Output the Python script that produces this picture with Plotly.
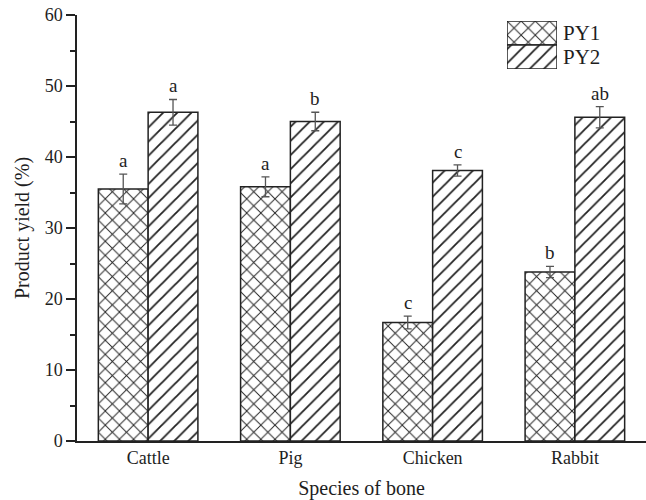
import plotly.graph_objects as go

# Bone species and product yields (%) for the two products
species = ["Cattle", "Pig", "Chicken", "Rabbit"]
py1_yield = [35.5, 35.8, 16.7, 23.8]
py1_err = [2.1, 1.4, 0.9, 0.8]
py2_yield = [46.3, 45.0, 38.1, 45.6]
py2_err = [1.8, 1.3, 0.8, 1.5]
py1_letters = ["a", "a", "c", "b"]
py2_letters = ["a", "b", "c", "ab"]
legend_labels = ["PY1", "PY2"]

FONT = "Liberation Serif, Times New Roman, serif"
INK = "#222222"
TEXT = "#1e1e1e"
BAR_W = 0.35

fig = go.Figure()


def bar_style(shape):
    return dict(
        color="white",
        line=dict(color=INK, width=1.5),
        pattern=dict(shape=shape, size=10, solidity=0.18,
                     fgcolor=INK, bgcolor="white", fillmode="replace"),
    )


fig.add_trace(go.Bar(
    x=species, y=py1_yield, width=BAR_W, offset=-BAR_W,
    marker=bar_style("x"), name=legend_labels[0], showlegend=False,
    error_y=dict(type="data", array=py1_err, visible=True,
                 color="#555555", thickness=1.3, width=4),
))
fig.add_trace(go.Bar(
    x=species, y=py2_yield, width=BAR_W, offset=0,
    marker=bar_style("/"), name=legend_labels[1], showlegend=False,
    error_y=dict(type="data", array=py2_err, visible=True,
                 color="#555555", thickness=1.3, width=4),
))

# Significance letters above the error bars
annotations = []
for i in range(len(species)):
    for vals, errs, letters, shift in ((py1_yield, py1_err, py1_letters, -BAR_W / 2),
                                       (py2_yield, py2_err, py2_letters, BAR_W / 2)):
        annotations.append(dict(
            x=i + shift, y=vals[i] + errs[i], xref="x", yref="y",
            text=letters[i], showarrow=False, yanchor="bottom", yshift=1,
            font=dict(family=FONT, size=19, color=TEXT),
        ))

# Legend key: patterned swatches in a small inset, labels beside them
LEG_X = [0.7557, 0.8436]
LEG_Y = [0.873, 0.986]
fig.add_trace(go.Bar(
    y=legend_labels[:1], x=[1], orientation="h", xaxis="x2", yaxis="y2",
    marker=bar_style("x"), showlegend=False, hoverinfo="skip", width=1.0,
))
fig.add_trace(go.Bar(
    y=legend_labels[1:], x=[1], orientation="h", xaxis="x2", yaxis="y2",
    marker=bar_style("/"), showlegend=False, hoverinfo="skip", width=1.0,
))
row_h = (LEG_Y[1] - LEG_Y[0]) / 2
for k, lab in enumerate(legend_labels):
    annotations.append(dict(
        x=LEG_X[1], y=LEG_Y[1] - row_h * (k + 0.5), xref="paper", yref="paper",
        text=lab, showarrow=False, xanchor="left", yanchor="middle", xshift=4,
        font=dict(family=FONT, size=21, color=TEXT),
    ))

fig.update_layout(
    width=646, height=500,
    margin=dict(l=77, r=0, t=15, b=59),
    paper_bgcolor="white", plot_bgcolor="white",
    font=dict(family=FONT, size=18, color=TEXT),
    annotations=annotations,
    xaxis=dict(
        type="category", range=[-0.5, 3.5],
        showline=True, linecolor=INK, linewidth=1.5,
        ticks="", showgrid=False, zeroline=False,
        tickfont=dict(family=FONT, size=18, color=TEXT),
        title=dict(text="Species of bone", font=dict(family=FONT, size=20, color=TEXT),
                   standoff=14),
    ),
    yaxis=dict(
        range=[0, 60], dtick=10,
        showline=True, linecolor=INK, linewidth=1.5,
        ticks="outside", ticklen=9, tickwidth=1.5, tickcolor=INK,
        minor=dict(dtick=5, ticks="outside", ticklen=5, tickwidth=1.5, tickcolor=INK),
        showgrid=False, zeroline=False,
        tickfont=dict(family=FONT, size=18, color=TEXT),
        title=dict(text="Product yield (%)", font=dict(family=FONT, size=20, color=TEXT),
                   standoff=10),
    ),
    xaxis2=dict(domain=LEG_X, anchor="y2", range=[0, 1],
                visible=False, fixedrange=True),
    yaxis2=dict(domain=LEG_Y, anchor="x2", range=[-0.5, 1.5],
                categoryorder="array", categoryarray=legend_labels[::-1],
                visible=False, fixedrange=True),
)

fig.write_html("out.html")
